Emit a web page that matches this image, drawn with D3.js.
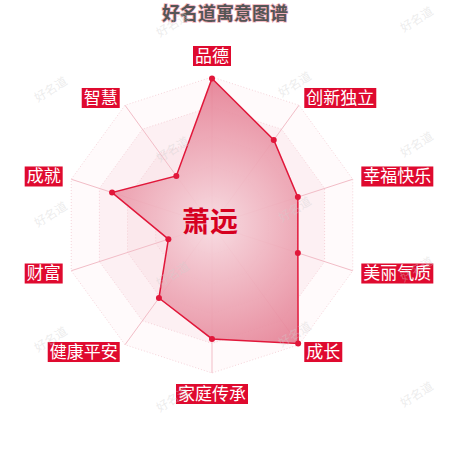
<!DOCTYPE html>
<html>
<head>
<meta charset="utf-8">
<script src="https://cdn.jsdelivr.net/npm/d3@7"></script>
<style>
  body { margin: 0; background: #fff; }
  svg { display: block; font-family: "Noto Sans CJK SC", "Noto Sans", sans-serif; }
</style>
</head>
<body>
<div id="chart"></div>
<script>
// 寓意维度和分值
const indicators = ["品德", "创新独立", "幸福快乐", "美丽气质", "成长", "家庭传承", "健康平安", "财富", "成就", "智慧"];
const values = [99, 71, 61, 61, 99, 77, 61, 31, 71, 41];
const maxValue = 100;
const levels = [20, 40, 60, 80, 100];
const title = "好名道寓意图谱";
const name = "萧远";
const watermark = "好名道";

const width = 450, height = 450;
const cx = 212, cy = 225, R = 148;

const svg = d3.select("#chart").append("svg")
    .attr("width", width)
    .attr("height", height);

const r = d3.scaleLinear().domain([0, maxValue]).range([0, R]);
const angle = d3.scaleLinear().domain([0, indicators.length]).range([0, 2 * Math.PI]);

const g = svg.append("g").attr("transform", `translate(${cx},${cy})`);

const defs = svg.append("defs");
const grad = defs.append("radialGradient")
    .attr("id", "fillGrad")
    .attr("gradientUnits", "userSpaceOnUse")
    .attr("cx", 0).attr("cy", 0).attr("r", R);
grad.append("stop").attr("offset", "0%").attr("stop-color", "#f7dbe1");
grad.append("stop").attr("offset", "100%").attr("stop-color", "#e47a8f");

const ring = d3.lineRadial()
    .angle((d, i) => angle(i))
    .curve(d3.curveLinearClosed);

// 背景分区
const bandFill = ["#fbe9ed", "#fae4e9", "#fbe8ec", "#fdf0f3", "#fffafb"];
levels.slice().reverse().forEach((lv, k) => {
    g.append("path")
        .attr("d", ring.radius(() => r(lv))(indicators))
        .attr("fill", bandFill[levels.length - 1 - k])
        .attr("stroke", "#f3c9d1")
        .attr("stroke-width", 0.8)
        .attr("stroke-dasharray", "1,2");
});

// 轴线
g.selectAll("line.axis")
    .data(indicators)
    .join("line")
    .attr("class", "axis")
    .attr("x1", 0).attr("y1", 0)
    .attr("x2", (d, i) => r(maxValue) * Math.sin(angle(i)))
    .attr("y2", (d, i) => -r(maxValue) * Math.cos(angle(i)))
    .attr("stroke", "#f2bdc7")
    .attr("stroke-width", 1);

// 数据区域
const area = d3.lineRadial()
    .angle((d, i) => angle(i))
    .radius(d => r(d))
    .curve(d3.curveLinearClosed);

g.append("path")
    .attr("d", area(values))
    .attr("fill", "url(#fillGrad)")
    .attr("fill-opacity", 0.9)
    .attr("stroke", "#e1173a")
    .attr("stroke-width", 1.5);

g.selectAll("circle.pt")
    .data(values)
    .join("circle")
    .attr("class", "pt")
    .attr("cx", (d, i) => r(d) * Math.sin(angle(i)))
    .attr("cy", (d, i) => -r(d) * Math.cos(angle(i)))
    .attr("r", 3)
    .attr("fill", "#e1173a");

// 维度标签
const nameGap = 9;
const labels = g.selectAll("g.lbl")
    .data(indicators)
    .join("g")
    .attr("class", "lbl");

labels.each(function (d, i) {
    const a = angle(i);
    const s = Math.sin(a), c = Math.cos(a);
    const dist = r(maxValue) + nameGap;
    const x = dist * s, y = -dist * c;
    let anchor = "middle", dy = 0;
    if (Math.abs(s) < 0.01) {
        dy = c > 0 ? -12 : 12;
    } else {
        anchor = s > 0 ? "start" : "end";
    }
    const sel = d3.select(this);
    const rect = sel.append("rect");
    const t = sel.append("text")
        .attr("x", x + (anchor === "start" ? 2 : anchor === "end" ? -2 : 0))
        .attr("y", y + dy)
        .attr("dy", "0.35em")
        .attr("text-anchor", anchor)
        .attr("font-size", 17)
        .attr("fill", "#fff")
        .text(d);
    const bb = t.node().getBBox();
    rect.attr("x", bb.x - 2)
        .attr("y", y + dy - 10)
        .attr("width", bb.width + 4)
        .attr("height", 20)
        .attr("fill", "#df0a2f");
});

// 中间的名字
g.append("text")
    .attr("x", -2)
    .attr("y", -3)
    .attr("dy", "0.35em")
    .attr("text-anchor", "middle")
    .attr("font-size", 28)
    .attr("font-weight", "bold")
    .attr("fill", "#d6001f")
    .text(name);

// 标题
svg.append("text")
    .attr("x", width / 2)
    .attr("y", 20)
    .attr("text-anchor", "middle")
    .attr("font-size", 18)
    .attr("font-weight", "bold")
    .attr("fill", "#555")
    .attr("stroke", "#f3b3bf")
    .attr("stroke-width", 1.5)
    .attr("paint-order", "stroke")
    .text(title);

// 水印
const wm = svg.append("g").attr("pointer-events", "none");
for (let i = -4; i <= 4; i++) {
    for (let j = -4; j <= 4; j++) {
        const x = 53 + 122 * i + 122 * j;
        const y = 93 + 60 * i - 65 * j;
        if (x < -20 || x > width + 20 || y < 0 || y > height + 10) continue;
        wm.append("text")
            .attr("transform", `translate(${x},${y}) rotate(-32)`)
            .attr("text-anchor", "middle")
            .attr("font-size", 12)
            .attr("fill", "#cfcfcf")
            .attr("fill-opacity", 0.4)
            .text(watermark);
    }
}
</script>
</body>
</html>
